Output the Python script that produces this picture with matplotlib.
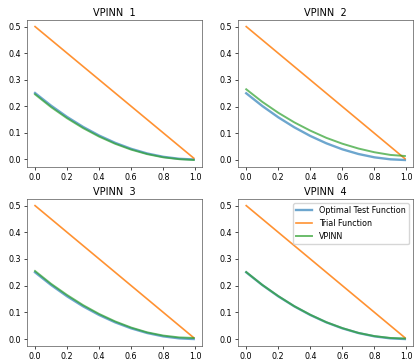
import matplotlib
matplotlib.use("Agg")
import matplotlib.pyplot as plt
import numpy as np

# точки по оси x
x = [0.0, 0.1, 0.2, 0.3, 0.4, 0.5, 0.6, 0.7, 0.8, 0.9, 0.99]

# оптимальная тестовая функция и пробная функция (одинаковы на всех графиках)
optimal = [0.25, 0.2025, 0.16, 0.1225, 0.09, 0.0625, 0.04, 0.0225, 0.01, 0.0025, 0.0]
trial = [0.5, 0.45, 0.4, 0.35, 0.3, 0.25, 0.2, 0.15, 0.1, 0.05, 0.005]

# решения VPINN для четырёх случаев
vpinn_1 = [0.245, 0.197, 0.155, 0.118, 0.086, 0.059, 0.037, 0.020, 0.008, 0.001, -0.002]
vpinn_2 = [0.265, 0.218, 0.177, 0.141, 0.110, 0.083, 0.061, 0.043, 0.029, 0.019, 0.015]
vpinn_3 = [0.255, 0.207, 0.165, 0.127, 0.094, 0.066, 0.043, 0.025, 0.013, 0.006, 0.004]
vpinn_4 = [0.251, 0.203, 0.161, 0.123, 0.091, 0.063, 0.041, 0.023, 0.011, 0.004, 0.002]

titles = ['VPINN  1', 'VPINN  2', 'VPINN  3', 'VPINN  4']
vpinns = [vpinn_1, vpinn_2, vpinn_3, vpinn_4]

plt.rcParams['font.size'] = 5.8

fig, axs = plt.subplots(2, 2, figsize=(4.17, 3.62), dpi=100)
for ax, t, v in zip(axs.flat, titles, vpinns):
    ax.plot(x, optimal, color='#1f77b4', lw=1.7, alpha=0.65, label='Optimal Test Function')
    ax.plot(x, trial, color='#ff7f0e', lw=1.2, alpha=0.85, label='Trial Function')
    ax.plot(x, v, color='#2ca02c', lw=1.4, alpha=0.7, label='VPINN')
    ax.set_title(t, fontsize=7.0, pad=3)
    ax.set_xticks([0.0, 0.2, 0.4, 0.6, 0.8, 1.0])
    ax.set_yticks([0.0, 0.1, 0.2, 0.3, 0.4, 0.5])
    ax.tick_params(length=2.5, width=0.5, pad=2)
    for s in ax.spines.values():
        s.set_linewidth(0.5)
        s.set_color('#555555')

axs[1, 1].legend(loc='upper right', fontsize=5.8)

plt.subplots_adjust(left=0.065, right=0.99, top=0.945, bottom=0.045, wspace=0.21, hspace=0.22)
plt.savefig('out.png')
